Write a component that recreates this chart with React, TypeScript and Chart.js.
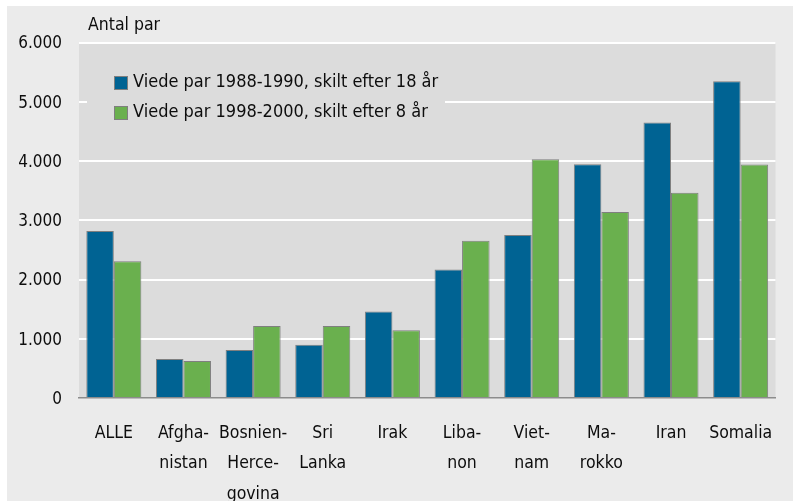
import React, { useEffect, useRef } from "react";
import { Chart, registerables } from "chart.js";

Chart.register(...registerables);

const categories: string[][] = [
  ["ALLE"],
  ["Afgha-", "nistan"],
  ["Bosnien-", "Herce-", "govina"],
  ["Sri", "Lanka"],
  ["Irak"],
  ["Liba-", "non"],
  ["Viet-", "nam"],
  ["Ma-", "rokko"],
  ["Iran"],
  ["Somalia"],
];
const series1Label = "Viede par 1988-1990, skilt efter 18 år";
const series2Label = "Viede par 1998-2000, skilt efter 8 år";
const series1 = [2820, 660, 810, 900, 1460, 2170, 2750, 3945, 4650, 5345];
const series2 = [2310, 625, 1215, 1215, 1145, 2655, 4030, 3140, 3465, 3940];
const yTicks = [0, 1000, 2000, 3000, 4000, 5000, 6000];
const yTitle = "Antal par";

const FONT = '"Liberation Sans Narrow", "DejaVu Sans Condensed", "Liberation Sans", sans-serif';
const BLUE = "#006393";
const GREEN = "#6ab04e";
const OUTER = "#ebebeb";
const PLOT = "#dcdcdc";
const TEXT = "#0d0d0d";

const fmt = (v: number) => {
  const s = Math.round(v).toString();
  return s.length > 3 ? s.slice(0, s.length - 3) + "." + s.slice(-3) : s;
};

const decorPlugin = {
  id: "decor",
  beforeDraw(chart: any) {
    const { ctx, chartArea, width, height } = chart;
    ctx.save();
    ctx.fillStyle = OUTER;
    ctx.fillRect(0, 0, width, height);
    ctx.fillStyle = PLOT;
    ctx.fillRect(chartArea.left, chartArea.top, chartArea.right - chartArea.left, chartArea.bottom - chartArea.top);
    ctx.fillStyle = TEXT;
    ctx.font = `17.5px ${FONT}`;
    ctx.textBaseline = "middle";
    ctx.textAlign = "left";
    ctx.fillText(yTitle, chartArea.left + 9, 19.5);
    ctx.restore();
  },
  beforeDatasetsDraw(chart: any) {
    const { ctx, chartArea } = chart;
    const x0 = chartArea.left;
    ctx.save();
    ctx.fillStyle = PLOT;
    ctx.fillRect(x0 + 8, 60, 358, 62);
    const items = [
      { label: series1Label, color: BLUE, y: 76.5 },
      { label: series2Label, color: GREEN, y: 106.5 },
    ];
    ctx.font = `18px ${FONT}`;
    ctx.textBaseline = "middle";
    ctx.textAlign = "left";
    for (const it of items) {
      ctx.fillStyle = it.color;
      ctx.fillRect(x0 + 35, it.y - 6.5, 13, 13);
      ctx.strokeStyle = "#7f7f7f";
      ctx.lineWidth = 1;
      ctx.strokeRect(x0 + 35.5, it.y - 6, 13, 13);
      ctx.fillStyle = TEXT;
      ctx.fillText(it.label, x0 + 54, it.y);
    }
    ctx.restore();
  },
};

export default function App() {
  const ref = useRef<HTMLCanvasElement | null>(null);
  useEffect(() => {
    document.body.style.margin = "0";
    document.body.style.background = "#ffffff";
    const chart = new Chart(ref.current as HTMLCanvasElement, {
      type: "bar",
      data: {
        labels: categories,
        datasets: [
          {
            label: series1Label,
            data: series1,
            backgroundColor: BLUE,
            borderColor: "#7f7f7f",
            borderWidth: 1,
            barPercentage: 1,
            categoryPercentage: 0.79,
          },
          {
            label: series2Label,
            data: series2,
            backgroundColor: GREEN,
            borderColor: "#7f7f7f",
            borderWidth: 1,
            barPercentage: 1,
            categoryPercentage: 0.79,
          },
        ],
      },
      options: {
        animation: false,
        responsive: false,
        layout: { padding: { top: 36.5, right: 17, left: 0, bottom: 0 } },
        plugins: {
          legend: { display: false },
          tooltip: { enabled: false },
        },
        scales: {
          x: {
            grid: { display: false, drawTicks: false },
            border: { display: true, color: "#8c8c8c", width: 1.5 },
            ticks: {
              color: TEXT,
              font: { family: FONT, size: 17.5, lineHeight: 1.75 },
              padding: 20,
              maxRotation: 0,
              autoSkip: false,
            },
            afterFit: (scale: any) => {
              scale.height = 103;
            },
          },
          y: {
            min: 0,
            max: 6000,
            afterBuildTicks: (scale: any) => {
              scale.ticks = yTicks.map((v) => ({ value: v }));
            },
            grid: {
              color: (c: any) => (c.tick && c.tick.value === 0 ? "rgba(0,0,0,0)" : "#ffffff"),
              lineWidth: 2,
              drawTicks: false,
            },
            border: { display: false },
            ticks: {
              color: TEXT,
              font: { family: FONT, size: 17 },
              padding: 17,
              labelOffset: 1.5,
              callback: (v: any) => fmt(Number(v)),
            },
            afterFit: (scale: any) => {
              scale.width = 72;
            },
          },
        },
      },
      plugins: [decorPlugin],
    });
    return () => chart.destroy();
  }, []);
  return (
    <div style={{ position: "absolute", left: 7, top: 6, width: 786, height: 495 }}>
      <canvas ref={ref} width={786} height={495} style={{ width: 786, height: 495, display: "block" }} />
    </div>
  );
}
